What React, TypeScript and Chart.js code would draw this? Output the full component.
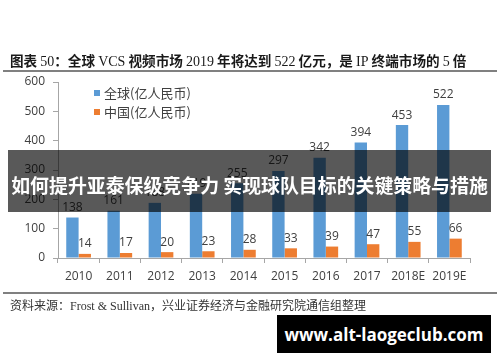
import React, { useEffect, useRef } from "react";
import { Chart, registerables } from "chart.js";

Chart.register(...registerables);

const categories = ["2010", "2011", "2012", "2013", "2014", "2015", "2016", "2017", "2018E", "2019E"];
const globalValues = [138, 161, 188, 219, 255, 297, 342, 394, 453, 522];
const chinaValues = [14, 17, 20, 23, 28, 33, 39, 47, 55, 66];
const seriesNames = ["全球(亿人民币)", "中国(亿人民币)"];
const seriesColors = ["#5B9BD5", "#ED7D31"];
const yMin = 0;
const yMax = 600;
const yStep = 100;

const CJK = '"Noto Sans CJK SC", "Noto Sans", sans-serif';
const SERIF = '"Liberation Serif", "DejaVu Serif", serif';
const LABEL_FONT = '"Open Sans", "Liberation Sans", sans-serif';

const valueLabels = {
  id: "valueLabels",
  afterDatasetsDraw(chart: any) {
    const ctx = chart.ctx;
    ctx.save();
    ctx.font = `12px ${LABEL_FONT}`;
    ctx.fillStyle = "#404040";
    ctx.textAlign = "center";
    ctx.textBaseline = "bottom";
    chart.data.datasets.forEach((ds: any, i: number) => {
      const meta = chart.getDatasetMeta(i);
      meta.data.forEach((el: any, j: number) => {
        ctx.fillText(String(ds.data[j]), el.x, el.y - 4);
      });
    });
    ctx.restore();
  },
};

export default function App() {
  const ref = useRef<HTMLCanvasElement | null>(null);

  useEffect(() => {
    if (!ref.current) return;
    const chart = new Chart(ref.current, {
      type: "bar",
      data: {
        labels: categories,
        datasets: [
          {
            label: seriesNames[0],
            data: globalValues,
            backgroundColor: seriesColors[0],
            categoryPercentage: 0.6,
            barPercentage: 1,
          },
          {
            label: seriesNames[1],
            data: chinaValues,
            backgroundColor: seriesColors[1],
            categoryPercentage: 0.6,
            barPercentage: 1,
          },
        ],
      },
      options: {
        responsive: false,
        animation: false,
        layout: { padding: { top: 82, right: 30, bottom: 74, left: 0 } },
        plugins: {
          legend: { display: false },
          tooltip: { enabled: false },
        },
        scales: {
          x: {
            grid: {
              display: true,
              drawOnChartArea: false,
              drawTicks: true,
              tickLength: 5,
              color: "#a6a6a6",
              offset: true,
            },
            border: { color: "#a6a6a6" },
            ticks: {
              color: "#404040",
              font: { size: 12, family: LABEL_FONT },
              padding: 6,
              maxRotation: 0,
              autoSkip: false,
            },
            afterFit: (s: any) => {
              s.height = 30;
            },
          },
          y: {
            min: yMin,
            max: yMax,
            grid: {
              display: true,
              drawOnChartArea: false,
              drawTicks: true,
              tickLength: 5,
              color: "#a6a6a6",
            },
            border: { color: "#a6a6a6" },
            ticks: {
              stepSize: yStep,
              color: "#404040",
              font: { size: 12, family: LABEL_FONT },
              padding: 8,
            },
            afterFit: (s: any) => {
              s.width = 58;
            },
          },
        },
      },
      plugins: [valueLabels],
    } as any);
    return () => chart.destroy();
  }, []);

  const num = { fontFamily: SERIF, fontWeight: 400, fontSize: 14 } as const;

  return (
    <div
      style={{
        position: "absolute",
        left: 0,
        top: 0,
        width: 500,
        height: 362,
        background: "#ffffff",
        overflow: "hidden",
      }}
    >
      <canvas
        ref={ref}
        width={500}
        height={362}
        style={{ position: "absolute", left: 0, top: 0, width: 500, height: 362 }}
      />
      {/* Title */}
      <div
        style={{
          position: "absolute",
          left: 10,
          top: 50,
          height: 20,
          lineHeight: "20px",
          fontSize: 13.6,
          fontFamily: CJK,
          fontWeight: 700,
          color: "#1a1a1a",
          whiteSpace: "nowrap",
        }}
      >
        图表 <span style={num}>50</span>：全球 <span style={num}>VCS</span> 视频市场{" "}
        <span style={num}>2019</span> 年将达到 <span style={num}>522</span> 亿元，是{" "}
        <span style={num}>IP</span> 终端市场的 <span style={num}>5</span> 倍
      </div>
      <div style={{ position: "absolute", left: 3, top: 70, width: 494, height: 2, background: "#808080" }} />
      {/* Legend */}
      {seriesNames.map((name, i) => (
        <div
          key={name}
          style={{
            position: "absolute",
            left: 94,
            top: 84 + i * 19,
            height: 18,
            lineHeight: "18px",
            fontSize: 13,
            fontFamily: CJK,
            color: "#404040",
            whiteSpace: "nowrap",
            display: "flex",
            alignItems: "center",
          }}
        >
          <span style={{ display: "inline-block", width: 6, height: 6, background: seriesColors[i], marginRight: 4 }} />
          {name}
        </div>
      ))}
      {/* bottom rule + source */}
      <div style={{ position: "absolute", left: 3, top: 292, width: 494, height: 1.5, background: "#808080" }} />
      <div
        style={{
          position: "absolute",
          left: 10,
          top: 297,
          height: 16,
          lineHeight: "16px",
          fontSize: 12,
          fontFamily: CJK,
          color: "#333333",
          whiteSpace: "nowrap",
        }}
      >
        资料来源：<span style={{ fontFamily: SERIF }}>Frost &amp; Sullivan</span>，兴业证券经济与金融研究院通信组整理
      </div>
      {/* Banner */}
      <div
        style={{
          position: "absolute",
          left: 8,
          top: 150,
          width: 483,
          height: 62,
          background: "rgba(0,0,0,0.65)",
          display: "flex",
          alignItems: "center",
          justifyContent: "center",
          boxSizing: "border-box",
          paddingTop: 7,
        }}
      >
        <span
          style={{
            fontFamily: CJK,
            fontWeight: 700,
            fontSize: 18.9,
            color: "#ffffff",
            whiteSpace: "nowrap",
          }}
        >
          如何提升亚泰保级竞争力 实现球队目标的关键策略与措施
        </span>
      </div>
      {/* Watermark */}
      <div
        style={{
          position: "absolute",
          left: 277,
          top: 315,
          width: 214,
          height: 38,
          background: "#000000",
          display: "flex",
          alignItems: "center",
          justifyContent: "center",
        }}
      >
        <span
          style={{
            fontFamily: '"Open Sans", "DejaVu Sans", sans-serif',
            fontWeight: 700,
            fontSize: 17,
            color: "#ffffff",
            whiteSpace: "nowrap",
          }}
        >
          www.alt-laogeclub.com
        </span>
      </div>
    </div>
  );
}
